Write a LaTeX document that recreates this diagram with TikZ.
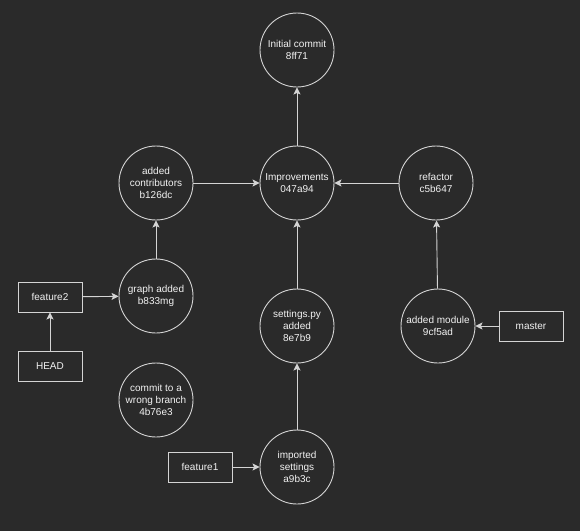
\documentclass[tikz,border=0pt]{standalone}
\usepackage{fontspec}
\setmainfont{Liberation Sans}
\usetikzlibrary{arrows.meta}
\definecolor{bg}{HTML}{2A2A2A}
\definecolor{ln}{HTML}{D4D4D4}
\definecolor{tx}{HTML}{F2F2F2}
\begin{document}
\begin{tikzpicture}[x=1pt,y=-1pt,>={Stealth[length=7pt,width=7pt,inset=1.5pt]},
  commit/.style={draw=ln,line width=.9pt,circle,minimum size=74pt,inner sep=0pt,align=center,text=tx,font=\fontsize{10}{12}\selectfont},
  branch/.style={draw=ln,line width=.9pt,minimum width=64pt,minimum height=30pt,inner sep=0pt,text=tx,font=\fontsize{10}{12}\selectfont},
  link/.style={->,draw=ln,line width=.9pt}]
\fill[bg](0,0)rectangle(580,531);
\useasboundingbox(0,0)rectangle(580,531);
\node[commit](init)at(297,50){Initial commit\\8ff71};
\node[commit](impr)at(297,183){Improvements\\047a94};
\node[commit](contrib)at(156,183){added\\contributors\\b126dc};
\node[commit](refac)at(436,183){refactor\\c5b647};
\node[commit](graph)at(156,296){graph added\\b833mg};
\node[commit](sett)at(297,326){settings.py\\added\\8e7b9};
\node[commit](module)at(438,326){added module\\9cf5ad};
\node[commit](wrong)at(156,400){commit to a\\wrong branch\\4b76e3};
\node[commit](imp)at(297,467){imported\\settings\\a9b3c};
\node[branch](feat2)at(50,297){feature2};
\node[branch](head)at(50,366){HEAD};
\node[branch](master)at(531,326){master};
\node[branch](feat1)at(200,467){feature1};
\draw[link](impr)--(init);
\draw[link](contrib)--(impr);
\draw[link](refac)--(impr);
\draw[link](graph)--(contrib);
\draw[link](sett)--(impr);
\draw[link](imp)--(sett);
\draw[link](module)--(refac);
\draw[link](feat2)--(graph);
\draw[link](head)--(feat2);
\draw[link](master)--(module);
\draw[link](feat1)--(imp);
\end{tikzpicture}
\end{document}
